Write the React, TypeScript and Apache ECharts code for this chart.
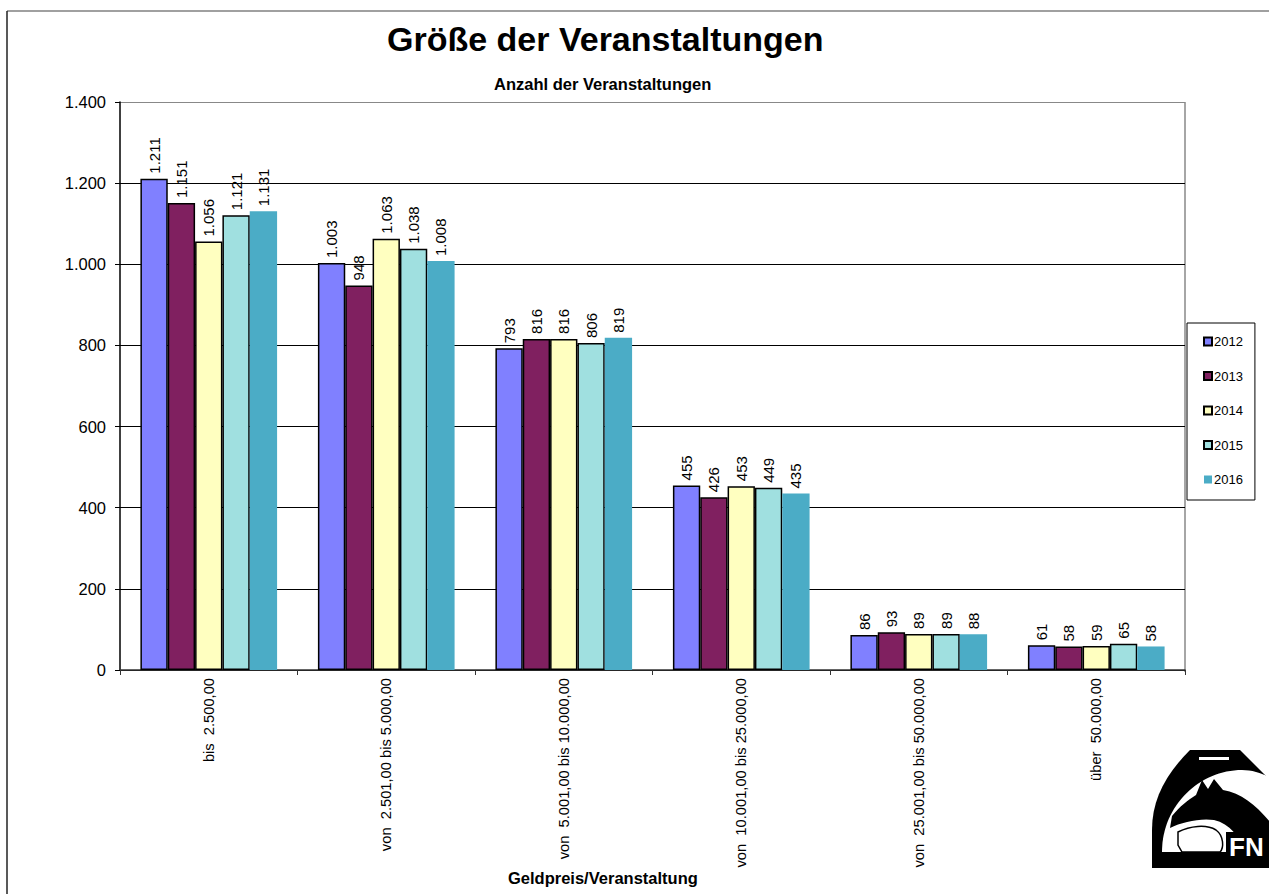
import React, { useEffect, useRef } from "react";
import * as echarts from "echarts";

const categories = [
  "bis  2.500,00",
  "von  2.501,00 bis 5.000,00",
  "von  5.001,00 bis 10.000,00",
  "von  10.001,00 bis 25.000,00",
  "von  25.001,00 bis 50.000,00",
  "über  50.000,00",
];
const years = ["2012", "2013", "2014", "2015", "2016"];
const v2012 = [1211, 1003, 793, 455, 86, 61];
const v2013 = [1151, 948, 816, 426, 93, 58];
const v2014 = [1056, 1063, 816, 453, 89, 59];
const v2015 = [1121, 1038, 806, 449, 89, 65];
const v2016 = [1131, 1008, 819, 435, 88, 58];
const seriesValues = [v2012, v2013, v2014, v2015, v2016];
const colors = ["#8080FF", "#802060", "#FFFFC0", "#A0E0E0", "#4BACC6"];
const borders = [1.5, 1.5, 1.5, 1.5, 0];

const fmt = (n: number) => String(n).replace(/\B(?=(\d{3})+(?!\d))/g, ".");

const stirrup =
  "M1190,750 L1240,750 L1285,795 L1285,868 L1152,868 L1152,830 C1152,800 1165,775 1190,750 Z";
const inner =
  "M1162,852 C1162,805 1200,770 1242,770 C1262,770 1285,783 1285,798 L1285,852 Z";
const horse =
  "M1196,795 L1202,780 L1208,789 L1214,779 L1223,790 C1248,794 1266,815 1285,842 L1285,852 L1242,852 C1240,836 1230,824 1214,820 C1200,818 1182,822 1170,828 L1172,816 C1180,806 1188,800 1196,795 Z";
const dog =
  "M1178,832 C1190,826 1206,824 1216,830 C1224,836 1224,848 1220,852 L1182,852 L1178,845 Z";

echarts.graphic.registerShape("fnStirrup", echarts.graphic.extendPath(stirrup, {}));
echarts.graphic.registerShape("fnInner", echarts.graphic.extendPath(inner, {}));
echarts.graphic.registerShape("fnHorse", echarts.graphic.extendPath(horse, {}));
echarts.graphic.registerShape("fnDog", echarts.graphic.extendPath(dog, {}));

export default function App() {
  const ref = useRef<HTMLDivElement>(null);
  useEffect(() => {
    if (!ref.current) return;
    const chart = echarts.init(ref.current, undefined, { renderer: "svg" });
    const font = "Arial, 'Liberation Sans', sans-serif";
    chart.setOption({
      animation: false,
      backgroundColor: "#ffffff",
      textStyle: { fontFamily: font },
      grid: { left: 120, right: 84, top: 102, bottom: 224, containLabel: false },
      legend: {
        orient: "vertical",
        left: 1187,
        top: 323,
        width: 72,
        padding: [12, 12, 14, 16],
        itemWidth: 8,
        itemHeight: 8,
        itemGap: 21.5,
        borderColor: "#000",
        borderWidth: 1,
        icon: "rect",
        textStyle: { fontSize: 13, color: "#000", fontFamily: font, padding: [0, 0, 0, -3] },
        data: years,
      },
      xAxis: {
        type: "category",
        data: categories,
        axisLine: { lineStyle: { color: "#333", width: 1.5 } },
        axisTick: { show: true, length: 5, lineStyle: { color: "#333" } },
        axisLabel: { rotate: 90, interval: 0, fontSize: 14.7, color: "#000", margin: 8, fontFamily: font },
      },
      yAxis: {
        type: "value",
        min: 0,
        max: 1400,
        interval: 200,
        axisLine: { show: true, lineStyle: { color: "#000", width: 1.5 } },
        axisTick: { show: true, length: 5, lineStyle: { color: "#000" } },
        axisLabel: { fontSize: 16.5, color: "#000", margin: 14, formatter: (v: number) => fmt(v), fontFamily: font },
        splitLine: {
          show: true,
          lineStyle: { color: ["#000", "#000", "#000", "#000", "#000", "#000", "#000", "#888"], width: 1 },
        },
      },
      series: years.map((y, i) => ({
        name: y,
        type: "bar",
        data: seriesValues[i],
        barGap: "0%",
        barCategoryGap: "23%",
        itemStyle: { color: colors[i], borderColor: "#000", borderWidth: borders[i] },
        label: {
          show: true,
          position: "top",
          rotate: 90,
          align: "left",
          verticalAlign: "middle",
          distance: 5,
          fontSize: 15,
          color: "#000",
          fontFamily: font,
          formatter: (p: any) => fmt(p.value),
        },
      })),
      graphic: [
        { type: "line", shape: { x1: 7, y1: 11, x2: 1269, y2: 11 }, style: { stroke: "#808080", lineWidth: 1.5 } },
        { type: "line", shape: { x1: 7, y1: 11, x2: 7, y2: 894 }, style: { stroke: "#222", lineWidth: 1.5 } },
        { type: "line", shape: { x1: 1185, y1: 102, x2: 1185, y2: 672 }, style: { stroke: "#888", lineWidth: 1.5 } },
        {
          type: "text",
          left: 387,
          top: 22,
          style: { text: "Größe der Veranstaltungen", fontSize: 34, fontWeight: "bold", fill: "#000", fontFamily: font },
        },
        {
          type: "text",
          left: 494,
          top: 75,
          style: { text: "Anzahl der Veranstaltungen", fontSize: 16.5, fontWeight: "bold", fill: "#000", fontFamily: font },
        },
        {
          type: "text",
          left: 508,
          top: 869,
          style: { text: "Geldpreis/Veranstaltung", fontSize: 16.5, fontWeight: "bold", fill: "#000", fontFamily: font },
        },
        { type: "fnStirrup", x: 0, y: 0, style: { fill: "#000" } },
        { type: "fnInner", x: 0, y: 0, style: { fill: "#fff" } },
        { type: "fnHorse", x: 0, y: 0, style: { fill: "#000" } },
        { type: "fnDog", x: 0, y: 0, style: { fill: "#fff", stroke: "#000", lineWidth: 1.5 } },
        { type: "rect", shape: { x: 1199, y: 757, width: 30, height: 3 }, style: { fill: "#fff" } },
        { type: "rect", shape: { x: 1226, y: 832, width: 50, height: 36 }, style: { fill: "#000" } },
        {
          type: "text",
          x: 1229,
          y: 834,
          style: { text: "FN", fontSize: 26, fontWeight: "bold", fill: "#fff", fontFamily: "'Liberation Sans Narrow', Arial, sans-serif" },
        },
      ],
    });
    return () => chart.dispose();
  }, []);
  return <div ref={ref} style={{ position: "fixed", left: 0, top: 0, width: 1269, height: 894 }} />;
}
